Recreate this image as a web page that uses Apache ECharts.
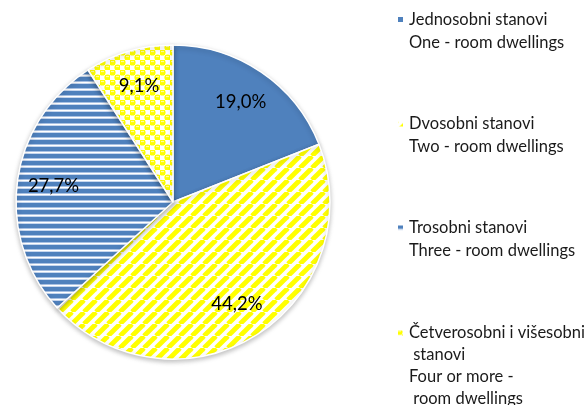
<!DOCTYPE html>
<html>
<head>
<meta charset="utf-8">
<script src="https://cdn.jsdelivr.net/npm/echarts@6/dist/echarts.min.js"></script>
<style>
  html, body { margin: 0; padding: 0; background: #fff; }
  #chart { width: 588px; height: 405px; }
</style>
</head>
<body>
<div id="chart"></div>
<script>
// podaci
const categories = [
  'Jednosobni stanovi\nOne - room dwellings',
  'Dvosobni stanovi\nTwo - room dwellings',
  'Trosobni stanovi\nThree - room dwellings',
  'Četverosobni i višesobni\n stanovi\nFour or more -\n room dwellings'
]
const shares = [19.0, 44.2, 27.7, 9.1]

const BLUE = '#4f81bd'
const YELLOW = '#ffff00'

// male slike za uzorke
function tile(w, h, draw) {
  const c = document.createElement('canvas')
  c.width = w
  c.height = h
  draw(c.getContext('2d'), w, h)
  return c
}

const diagonal = tile(12, 12, (ctx, w, h) => {
  ctx.fillStyle = '#fff'
  ctx.fillRect(0, 0, w, h)
  ctx.strokeStyle = YELLOW
  ctx.lineWidth = 4.8
  for (let x0 = -w; x0 <= w; x0 += w) {
    ctx.beginPath()
    ctx.moveTo(x0, h)
    ctx.lineTo(x0 + w, 0)
    ctx.stroke()
  }
})

const horizontal = tile(4, 7, (ctx, w) => {
  ctx.fillStyle = BLUE
  ctx.fillRect(0, 0, w, 4)
  ctx.fillStyle = '#a9c1e3'
  ctx.fillRect(0, 4, w, 1)
  ctx.fillStyle = '#fff'
  ctx.fillRect(0, 5, w, 1)
  ctx.fillStyle = '#c6d6ee'
  ctx.fillRect(0, 6, w, 1)
})

const checker = tile(10, 10, (ctx, w, h) => {
  ctx.fillStyle = YELLOW
  ctx.fillRect(0, 0, w, h)
  ctx.fillStyle = '#fff'
  ctx.fillRect(5, 0, 5, 5)
  ctx.fillRect(0, 5, 5, 5)
  ctx.fillStyle = YELLOW
  ;[[2.5, 2.5], [7.5, 7.5]].forEach(([x, y]) => {
    ctx.beginPath()
    ctx.arc(x, y, 3.1, 0, Math.PI * 2)
    ctx.fill()
  })
  ctx.fillStyle = '#ffffb0'
  ;[[2.5, 1.6], [7.5, 6.6]].forEach(([x, y]) => {
    ctx.fillRect(x - 1.5, y - 0.5, 3, 1)
  })
})

const fills = [
  BLUE,
  { image: diagonal, repeat: 'repeat' },
  { image: horizontal, repeat: 'repeat' },
  { image: checker, repeat: 'repeat' }
]

const pieData = categories.map((name, i) => ({
  name,
  value: shares[i],
  itemStyle: { color: fills[i] }
}))

// legenda: jedna komponenta po stavci; prazni redovi iznad teksta
// drže prvi red u visini ikone
const legendTops = [-15, 89.5, 193.5, 256]
const legendLH = [23, 23, 23, 22]
const legends = categories.map((name, i) => {
  const lines = name.split('\n').length
  return {
    data: [name],
    left: 396,
    top: legendTops[i],
    padding: 0,
    itemWidth: 7,
    itemHeight: 7,
    icon: 'rect',
    selectedMode: false,
    formatter: n => '\n'.repeat(lines - 1) + n,
    textStyle: {
      fontFamily: 'Lato',
      fontSize: 16.5,
      color: '#1a1a1a',
      lineHeight: legendLH[i]
    }
  }
})

const chart = echarts.init(document.getElementById('chart'))
chart.setOption({
  animation: false,
  legend: legends,
  series: [
    {
      type: 'pie',
      center: [173, 202],
      radius: 157,
      startAngle: 90,
      clockwise: true,
      silent: true,
      label: { show: false },
      labelLine: { show: false },
      itemStyle: {
        borderColor: '#fff',
        borderWidth: 1.5,
        shadowBlur: 5,
        shadowOffsetY: 2,
        shadowColor: 'rgba(0,0,0,0.25)'
      },
      data: pieData
    },
    {
      // samo za natpise, na ~3/4 polumjera
      type: 'pie',
      center: [173, 202],
      radius: [78, 157],
      startAngle: 90,
      clockwise: true,
      silent: true,
      itemStyle: { color: 'transparent' },
      label: {
        show: true,
        position: 'inside',
        fontFamily: 'Lato',
        fontSize: 18.5,
        color: '#000',
        formatter: p => p.value.toFixed(1).replace('.', ',') + '%'
      },
      labelLine: { show: false },
      data: categories.map((name, i) => ({ name, value: shares[i] }))
    }
  ]
})
</script>
</body>
</html>
